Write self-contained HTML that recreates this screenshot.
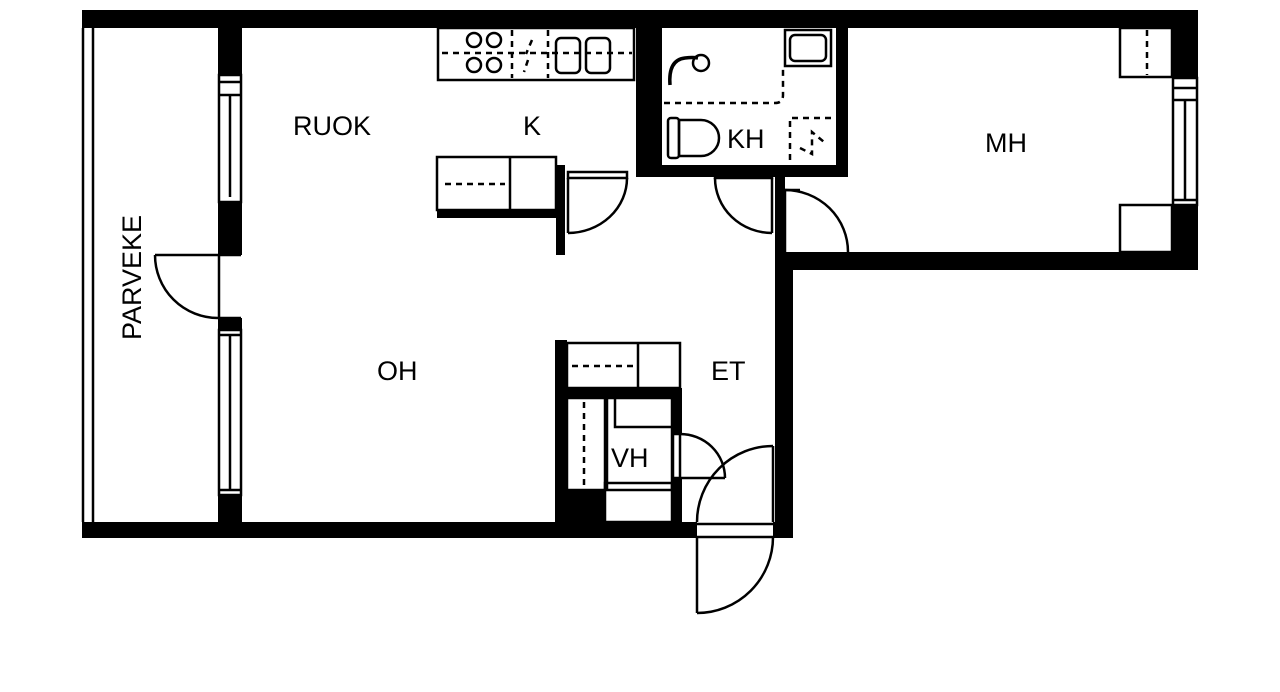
<!DOCTYPE html>
<html><head><meta charset="utf-8"><style>
html,body{margin:0;padding:0;background:#fff;width:1280px;height:692px;overflow:hidden}
svg{display:block}
text{font-family:"Liberation Sans","DejaVu Sans",sans-serif;font-size:27px;fill:#000}
</style></head><body>
<svg width="1280" height="692" viewBox="0 0 1280 692" xmlns="http://www.w3.org/2000/svg">
<g fill="#000">
<rect x="82" y="10" width="1116" height="18"/>
<rect x="82" y="522" width="615" height="16"/>
<rect x="773" y="522" width="20" height="16"/>
<rect x="218" y="28" width="24" height="47"/>
<rect x="218" y="202" width="24" height="53"/>
<rect x="218" y="318" width="24" height="12"/>
<rect x="218" y="495" width="24" height="27"/>
<rect x="636" y="28" width="26" height="149"/>
<rect x="636" y="165" width="212" height="12"/>
<rect x="836" y="28" width="12" height="149"/>
<rect x="437" y="210" width="126" height="8"/>
<rect x="556" y="165" width="9" height="90"/>
<rect x="775" y="177" width="10" height="78"/>
<rect x="775" y="252" width="423" height="18"/>
<rect x="1172" y="10" width="26" height="68"/>
<rect x="1172" y="205" width="26" height="65"/>
<rect x="775" y="252" width="18" height="286"/>
<rect x="555" y="340" width="12" height="182"/>
<rect x="555" y="388" width="127" height="10"/>
<rect x="672" y="388" width="10" height="46"/>
<rect x="672" y="478" width="10" height="44"/>
<rect x="555" y="490" width="50" height="32"/>
</g>
<g fill="none" stroke="#000" stroke-width="2.5">
<line x1="83" y1="28" x2="83" y2="522"/>
<line x1="93" y1="28" x2="93" y2="522"/>
<rect x="219" y="75" width="22" height="127"/>
<line x1="230" y1="95" x2="230" y2="197"/>
<line x1="219" y1="82" x2="241" y2="82"/>
<line x1="219" y1="95" x2="241" y2="95"/>
<rect x="219" y="330" width="22" height="165"/>
<line x1="230" y1="335" x2="230" y2="490"/>
<line x1="219" y1="335" x2="241" y2="335"/>
<line x1="219" y1="490" x2="241" y2="490"/>
<line x1="155" y1="255" x2="218" y2="255"/>
<path d="M155 255 A63 63 0 0 0 218 318"/>
<line x1="219" y1="255" x2="241" y2="255"/><line x1="219" y1="318" x2="241" y2="318"/>
<line x1="219" y1="255" x2="219" y2="318"/>
<rect x="438" y="28" width="196" height="52"/>
<circle cx="474" cy="40" r="7"/><circle cx="494" cy="40" r="7"/>
<circle cx="474" cy="65" r="7"/><circle cx="494" cy="65" r="7"/>
<rect x="556" y="38" width="24" height="35" rx="5"/><rect x="586" y="38" width="24" height="35" rx="5"/>
<rect x="437" y="157" width="119" height="53"/>
<line x1="510" y1="157" x2="510" y2="210"/>
<rect x="568" y="172" width="59" height="6"/>
<line x1="568" y1="178" x2="568" y2="233"/>
<path d="M568 233 A59 55 0 0 0 627 178"/>
<rect x="715" y="172" width="57" height="6"/>
<line x1="772" y1="178" x2="772" y2="233"/>
<path d="M715 178 A57 55 0 0 0 772 233"/>
<line x1="785" y1="190" x2="785" y2="252"/>
<line x1="779" y1="190" x2="779" y2="252"/>
<line x1="785" y1="190" x2="800" y2="190"/>
<path d="M785 190 A63 62 0 0 1 848 252"/>
<rect x="1120" y="28" width="52" height="49"/>
<rect x="1120" y="205" width="52" height="47"/>
<rect x="1173" y="78" width="24" height="127"/>
<line x1="1185" y1="100" x2="1185" y2="200"/>
<line x1="1173" y1="88" x2="1197" y2="88"/>
<line x1="1173" y1="100" x2="1197" y2="100"/>
<line x1="1173" y1="200" x2="1197" y2="200"/>
<rect x="785" y="30" width="46" height="36"/>
<rect x="790" y="35" width="36" height="26" rx="5"/>
<path d="M670 85 q-2-25 15-27 q8-1 13 0" stroke-width="3.5"/>
<circle cx="701" cy="63" r="8"/>
<rect x="668" y="118" width="11" height="40" rx="3"/>
<path d="M679 120 h22 a18 18 0 0 1 0 36 h-22z"/>
<rect x="567" y="343" width="113" height="45"/>
<line x1="638" y1="343" x2="638" y2="388"/>
<rect x="567" y="398" width="38" height="92"/>
<rect x="607" y="398" width="65" height="92"/>
<polyline points="615,398 615,427 672,427"/>
<rect x="605" y="483" width="67" height="39"/>
<rect x="673" y="434" width="7" height="44"/>
<line x1="680" y1="478" x2="725" y2="478"/>
<path d="M680 434 A45 44 0 0 1 725 478"/>
<line x1="697" y1="524" x2="773" y2="524"/>
<line x1="697" y1="537" x2="773" y2="537"/>
<line x1="773" y1="446" x2="773" y2="522"/>
<path d="M697 522 A76 76 0 0 1 773 446"/>
<line x1="697" y1="537" x2="697" y2="613"/>
<path d="M697 613 A76 76 0 0 0 773 537"/>
</g>
<g fill="none" stroke="#000" stroke-width="2.5" stroke-dasharray="6,5">
<line x1="442" y1="53" x2="632" y2="53"/>
<line x1="512" y1="30" x2="512" y2="78"/>
<line x1="548" y1="30" x2="548" y2="78"/>
<line x1="445" y1="184" x2="505" y2="184"/>
<line x1="1147" y1="30" x2="1147" y2="75"/>
<path d="M664 103 H775 q8 0 8-8 V66"/>
<path d="M790 160 V118 H836"/>
<path d="M800 148 l12 6 V132 l12 10"/>
<line x1="572" y1="366" x2="636" y2="366"/>
<line x1="584" y1="402" x2="584" y2="488"/>
<path d="M532 40 l-6 14 M528 60 l-4 12"/>
</g>
<text x="293" y="135">RUOK</text>
<text x="523" y="135">K</text>
<text x="727" y="148">KH</text>
<text x="985" y="152">MH</text>
<text x="377" y="380">OH</text>
<text x="711" y="380">ET</text>
<text x="611" y="467">VH</text>
<text transform="translate(141,340) rotate(-90)">PARVEKE</text>
</svg>
</body></html>
